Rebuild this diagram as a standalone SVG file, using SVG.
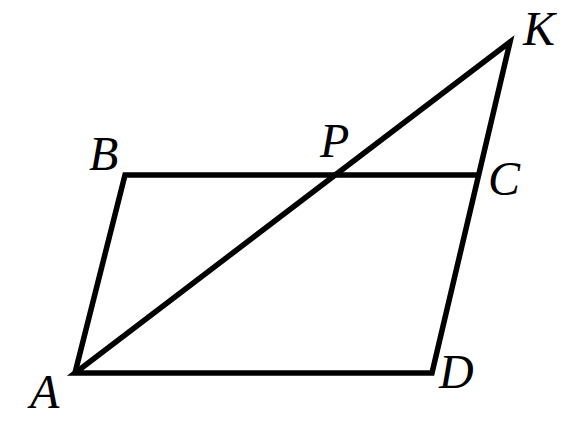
<svg xmlns="http://www.w3.org/2000/svg" width="574" height="435" viewBox="0 0 574 435">
<style>
.e{stroke:#000;stroke-width:5.5;fill:none;stroke-linejoin:miter;stroke-linecap:butt}
.l{font-family:"Liberation Serif","Times New Roman",serif;font-style:italic;font-size:48px;fill:#000}
</style>
<rect width="574" height="435" fill="#fff"/>
<g id="connectors">
<path class="e" d="M75,373 L125,175 L477,175"/>
<path class="e" d="M75,373 L432,373 L510,42 Z"/>
</g>
<g id="A"><text class="l" x="30" y="408">A</text></g>
<g id="B"><text class="l" x="89" y="170">B</text></g>
<g id="C"><text class="l" x="488" y="195">C</text></g>
<g id="D"><text class="l" x="439" y="388">D</text></g>
<g id="K"><text class="l" x="523" y="45">K</text></g>
<g id="P"><text class="l" x="320" y="157">P</text></g>
</svg>
